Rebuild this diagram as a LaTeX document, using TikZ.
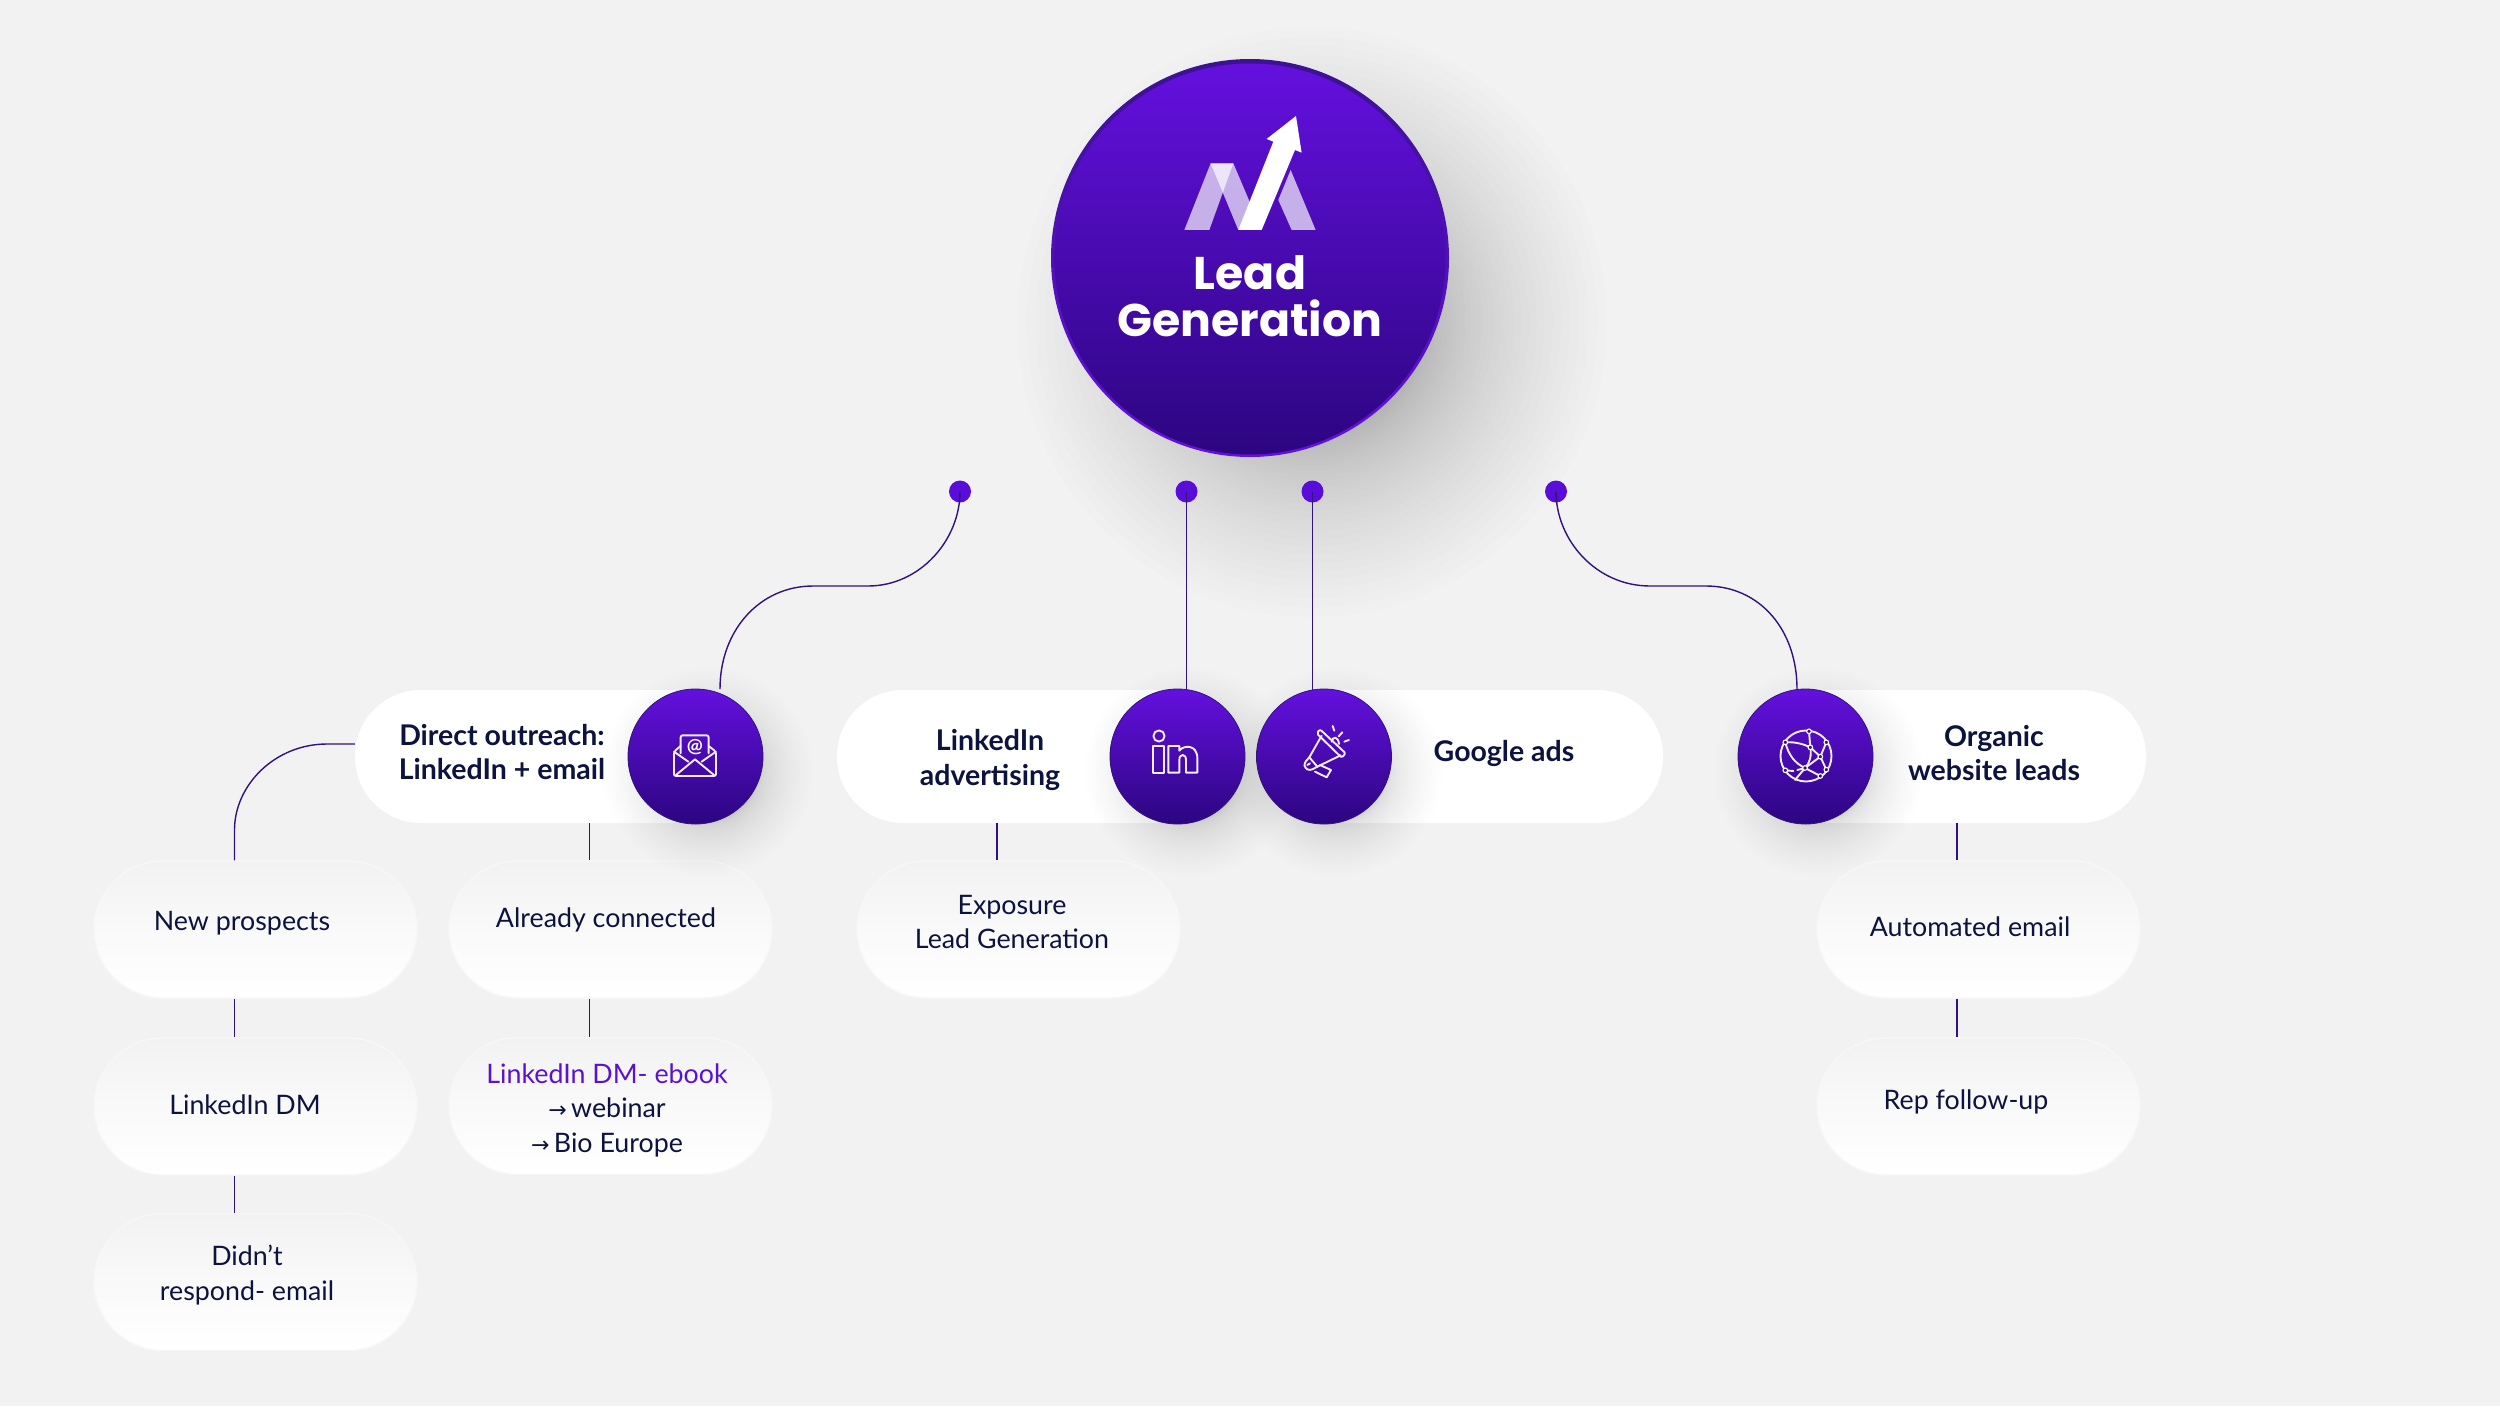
\documentclass[tikz,border=0pt]{standalone}
\usepackage{fontspec}
\setmainfont{Lato}
\newfontfamily\titlefont{Poppins}
\newfontfamily\symfont{DejaVu Sans}
\usetikzlibrary{calc}
\definecolor{bgc}{HTML}{F2F2F2}
\definecolor{inkc}{HTML}{0C133E}
\definecolor{linec}{HTML}{32127E}
\definecolor{purp}{HTML}{5A12D0}
\definecolor{ptop}{HTML}{6410DE}
\definecolor{pbot}{HTML}{2C0580}
\definecolor{dotc}{HTML}{5A0CD8}
\newcommand{\softpill}[7]{% cx cy w h spread color opacity
  \foreach \i in {1,...,12}{
    \pgfmathsetmacro{\s}{#5*\i/12}
    \pgfmathsetmacro{\rr}{#4/2+\s}
    \fill[#6,opacity=#7,rounded corners=\rr pt] (#1-#3/2-\s,#2-#4/2-\s) rectangle (#1+#3/2+\s,#2+#4/2+\s);
  }}
\newcommand{\softdisc}[6]{% cx cy r0 r1 colour opacity
  \foreach \i in {0,...,40}{
    \pgfmathsetmacro{\rr}{#3+(#4-#3)*(\i/40)*(\i/40)}
    \fill[#5,opacity=#6] (#1,#2) circle[radius=\rr];
  }}
\tikzset{
  x=1pt,y=-1pt,
  subpill/.style={rounded corners=69pt,minimum width=323pt,minimum height=137pt,inner sep=0pt,top color=bgc,bottom color=white,middle color=bgc!45!white,draw=white!40!bgc,line width=1.4pt},
  mainpill/.style={rounded corners=66pt,minimum height=133pt,inner sep=0pt,fill=white},
  disc/.style={circle,minimum size=135pt,inner sep=0pt,top color=ptop,bottom color=pbot,draw=linec,line width=.8pt},
  dotn/.style={circle,minimum size=22pt,inner sep=0pt,fill=dotc},
  conn/.style={draw=linec,line width=1.4pt},
  lab/.style={text=inkc,align=center,inner sep=0pt,font=\fontsize{26.8}{34.5}\selectfont},
  blab/.style={text=inkc,align=center,inner sep=0pt,font=\fontsize{28.5}{34.5}\selectfont\bfseries},
  icon/.style={draw=white!92!purp,line width=1.9pt,line join=round,line cap=round},
}
\begin{document}
\begin{tikzpicture}
\useasboundingbox (0,0) rectangle (2500,1406);
\fill[bgc] (0,0) rectangle (2500,1406);
% big circle glow and shadow
\softdisc{1215}{225}{150}{300}{white}{.03}
\softdisc{1312}{322}{100}{295}{black}{.0065}
% sub pill shadows
\foreach \cx/\cy in {255.5/929.5,255.5/1106.5,255.5/1282,610.5/929.5,610.5/1106,1018.5/929.5,1978.5/929.5,1978.5/1106.5}{
  \softpill{\cx+7}{\cy+8}{323}{137}{26}{black}{.0017}
  \softpill{\cx-8}{\cy-8}{323}{137}{18}{white}{.02}
}
% main pills
\node[mainpill,minimum width=380pt] (p1) at (545,756.5) {};
\node[mainpill,minimum width=380pt] (p2) at (1027,756.5) {};
\node[mainpill,minimum width=380pt] (p3) at (1473,756.5) {};
\node[mainpill,minimum width=380pt] (p4) at (1956,756.5) {};
% sub pills
\node[subpill] (np) at (255.5,929.5) {};
\node[subpill] (dm) at (255.5,1106.5) {};
\node[subpill] (dr) at (255.5,1282) {};
\node[subpill] (ac) at (610.5,929.5) {};
\node[subpill] (eb) at (610.5,1106) {};
\node[subpill] (ex) at (1018.5,929.5) {};
\node[subpill] (ae) at (1978.5,929.5) {};
\node[subpill] (rf) at (1978.5,1106.5) {};
% disc shadows
\softdisc{708}{772}{50}{105}{black}{.003}
\softdisc{1190}{772}{50}{105}{black}{.003}
\softdisc{1337}{772}{50}{105}{black}{.003}
\softdisc{1818}{772}{50}{105}{black}{.003}
% dots and discs
\node[dotn] (d1) at (960,491.5) {};
\node[dotn] (d2) at (1186.5,491.5) {};
\node[dotn] (d3) at (1312.5,491.5) {};
\node[dotn] (d4) at (1556,491.5) {};
\coordinate (xa) at (234.5,0);
\coordinate (xb) at (589.5,0);
\coordinate (xc) at (997,0);
\coordinate (xd) at (1957,0);
\coordinate (xe) at (1186.5,0);
\coordinate (xf) at (1312.5,0);
% connectors
\draw[conn] (d1.center) .. controls (960,540) and (920,586) .. (868,586) -- (813,586) .. controls (760,586) and (720,630) .. (720,689);
\draw[conn] (d2.center) -- (p2.north -| xe);
\draw[conn] (d3.center) -- (p3.north -| xf);
\draw[conn] (d4.center) .. controls (1556,540) and (1596,586) .. (1650,586) -- (1706,586) .. controls (1760,586) and (1797,630) .. (1797,689);
\draw[conn] (p1.west |- 0,744) -- (327,744) .. controls (275,744) and (234.5,785) .. (234.5,830) -- (np.north -| xa);
\draw[conn] (p1.south -| xb) -- (ac.north -| xb);
\draw[conn] (ac.south -| xb) -- (eb.north -| xb);
\draw[conn] (np.south -| xa) -- (dm.north -| xa);
\draw[conn] (dm.south -| xa) -- (dr.north -| xa);
\draw[conn] (p2.south -| xc) -- (ex.north -| xc);
\draw[conn] (p4.south -| xd) -- (ae.north -| xd);
\draw[conn] (ae.south -| xd) -- (rf.north -| xd);
% discs
\node[disc] (c1) at (695.5,756.5) {};
\node[disc] (c2) at (1177.5,756.5) {};
\node[disc] (c3) at (1324,756.5) {};
\node[disc] (c4) at (1805.5,756.5) {};
% big circle
\node[circle,minimum size=398pt,inner sep=0pt,top color=linec!80!ptop,bottom color=ptop] (hub) at (1250,258) {};
\node[circle,minimum size=391pt,inner sep=0pt,top color=ptop,bottom color=pbot] (hubin) at (1250,259) {};
% logo
\begin{scope}[shift={(1000,40)},x=.3333pt,y=-.3333pt]
\fill[white,opacity=.68] (553,570) -- (632,370) -- (700,370) -- (628,570) -- cycle;
\fill[white,opacity=.68] (632,370) -- (700,370) -- (785,570) -- (715,570) -- cycle;
\fill[white,opacity=.68] (872,390) -- (947,570) -- (875,570) -- (835,480) -- cycle;
\fill[white] (715,570) -- (785,570) -- (885,330) -- (905,338) -- (888,228) -- (800,297) -- (820,305) -- cycle;
\end{scope}
\node[text=white,align=center,inner sep=0pt,font=\titlefont\fontsize{45.8}{47}\selectfont\bfseries] (tt) at (1250,296) {Lead\\Generation};
% labels
\node[blab] (t1) at (502,752) {Direct outreach:\\LinkedIn + email};
\node[blab] (t2) at (990,760) {LinkedIn\\advertising};
\node[blab] (t3) at (1504,753) {Google ads};
\node[blab] (t4) at (1994,753) {Organic\\website leads};
\node[lab] (t5) at (242,923) {New prospects};
\node[lab] (t6) at (606,920) {Already connected};
\node[lab] (t7) at (1012,922) {Exposure\\Lead Generation};
\node[lab] (t8) at (245,1105) {LinkedIn DM};
\node[lab] (t9) at (247,1275) {Didn’t\\respond- email};
\node[lab] (t10) at (607,1110) {\textcolor{purp}{LinkedIn DM- ebook}\\{\symfont\fontsize{22}{22}\selectfont →}\,webinar\\{\symfont\fontsize{22}{22}\selectfont →}\,Bio Europe};
\node[lab] (t11) at (1970,927) {Automated email};
\node[lab] (t12) at (1966,1102) {Rep follow-up};
% mail icon
\begin{scope}[shift={(340,660)},x=.3333pt,y=-.3333pt]
\draw[icon,rounded corners=2pt] (1022,258) -- (1002,275) -- (1002,348) -- (1128,348) -- (1128,275) -- (1106,258);
\draw[icon,rounded corners=2pt] (1022,280) -- (1022,226) -- (1106,226) -- (1106,280);
\draw[icon] (1002,275) -- (1045,305);
\draw[icon] (1128,275) -- (1085,305);
\draw[icon] (1008,345) -- (1065,298) -- (1122,345);
\node[text=white,inner sep=0pt,font=\fontsize{19}{19}\selectfont\bfseries] (at) at (1065,262) {@};
\end{scope}
% linkedin icon
\begin{scope}[shift={(1100,670)},x=.3333pt,y=-.3333pt]
\draw[icon] (177,198) circle[radius=5.6pt];
\draw[icon] (160,228) rectangle (193,308);
\draw[icon] (205,228) -- (238,228) -- (238,242) .. controls (250,225) and (292,222) .. (292,265) -- (292,308) -- (258,308) -- (258,270) .. controls (258,250) and (238,250) .. (238,270) -- (238,308) -- (205,308) -- cycle;
\end{scope}
% megaphone icon
\begin{scope}[shift={(1100,670)},x=.3333pt,y=-.3333pt]
\draw[icon,rounded corners=2pt] (650,190) -- (660,178) -- (737,250) -- (725,263) -- cycle;
\draw[icon] (665,197) -- (628,262) -- (652,290) -- (722,256);
\draw[icon,rounded corners=3pt] (628,262) -- (612,280) -- (615,295) -- (630,302) -- (652,290);
\draw[icon] (645,305) -- (680,322) -- (693,300) -- (660,285);
\draw[icon] (695,215) .. controls (697,198) and (715,198) .. (717,222);
\draw[icon] (698,168) -- (703,182);
\draw[icon] (727,187) -- (716,199);
\draw[icon] (747,210) -- (733,215);
\draw[icon] (622,285) -- (630,280);
\end{scope}
% globe icon
\begin{scope}[shift={(1720,670)},x=.3333pt,y=-.3333pt]
\draw[icon] (258,258) circle[radius=25.5pt];
\draw[icon] (196,217) .. controls (225,215) and (250,222) .. (271,232);
\draw[icon] (267,184) -- (271,232) .. controls (275,255) and (270,280) .. (255,294);
\draw[icon] (271,232) -- (301,260) -- (319,217);
\draw[icon] (301,260) -- (319,299);
\draw[icon] (301,260) -- (255,294);
\draw[icon] (196,217) .. controls (205,255) and (225,280) .. (255,294);
\draw[icon] (196,301) -- (220,303);
\draw[icon] (232,300) -- (255,294) -- (301,318);
\draw[icon] (255,294) -- (225,330);
\foreach \nx/\ny in {267/184,196/217,319/217,271/232,301/260,255/294,196/301,319/299,301/318}{
  \filldraw[draw=white,fill=linec,line width=1.1pt] (\nx,\ny) circle[radius=2.3pt];
}
\end{scope}
\end{tikzpicture}
\end{document}
